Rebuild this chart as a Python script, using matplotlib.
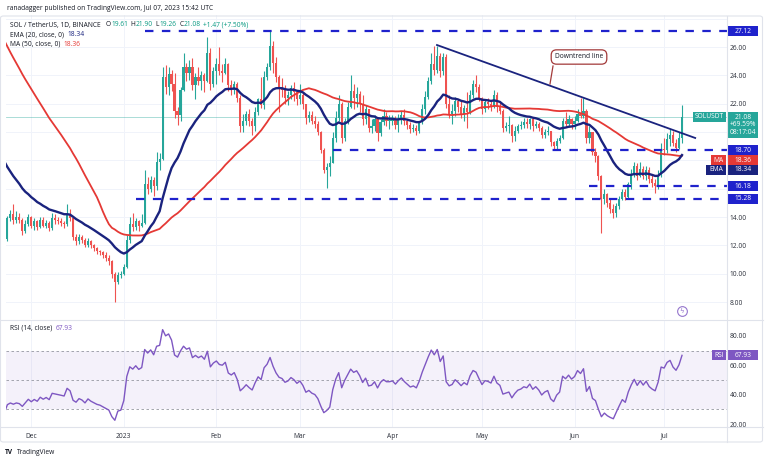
import matplotlib
matplotlib.use("Agg")
import matplotlib.pyplot as plt
import matplotlib.dates as mdates
from matplotlib.lines import Line2D
from matplotlib.patches import Rectangle, FancyBboxPatch
import numpy as np
import pandas as pd

plt.rcParams['font.family'] = ['Open Sans', 'DejaVu Sans']

# daily closes before the visible window (Oct 1 - Nov 22 2022), only used by the indicators
warmup_closes = [33.2, 32.2, 33.4, 34.6, 33.8, 33.3, 32.6, 32.9, 32.7, 31.7, 30.9, 30.9, 30.9, 30.4, 30.2, 30.5,
                 30.9, 30.3, 28.6, 28.6, 28.5, 28.6, 29.2, 29.4, 30.4, 31.3, 29.6, 31.5, 33.0, 31.9, 31.6,
                 32.0, 30.6, 30.9, 36.0, 37.6, 34.6, 31.6, 22.9, 15.5, 17.6, 15.8, 14.4, 14.0, 14.3, 14.4,
                 13.8, 13.5, 13.2, 13.5, 12.4, 11.6, 12.45]

first_day = "2022-11-23"
first_open = 12.45
closes = [
    13.9, 14.2, 13.8, 14.0, 13.8, 13.0, 13.5, 14.0,  # nov
    13.4, 13.7, 13.3, 13.8, 13.4, 13.6, 13.2, 13.9, 13.8, 13.7, 13.6, 13.5, 14.2, 13.9, 12.6, 12.3,
    12.6, 12.4, 12.0, 12.3, 12.0, 11.8, 11.6, 11.5, 11.3, 11.1, 10.9, 10.0, 9.4, 9.9, 9.95,  # dec
    10.5, 12.4, 13.5, 13.3, 13.7, 13.4, 13.6, 16.3, 16.0, 16.6, 16.2, 17.9, 18.1, 23.9, 23.2, 24.1,
    23.4, 21.5, 21.2, 23.0, 24.6, 24.2, 24.6, 23.3, 23.9, 23.6, 24.0, 23.6, 25.6, 23.4, 24.3,  # jan
    24.8, 24.3, 24.2, 24.8, 23.3, 23.0, 23.4, 22.4, 20.4, 20.8, 21.3, 20.8, 20.4, 21.4, 22.3, 21.9,
    23.9, 24.6, 26.1, 24.9, 23.9, 23.2, 23.0, 22.4, 22.6, 23.1, 22.8, 22.3,  # feb
    22.6, 22.0, 21.0, 21.2, 20.8, 20.6, 20.0, 18.7, 17.3, 17.5, 17.8, 19.6, 21.0, 22.0, 19.6, 20.8,
    21.8, 22.9, 22.4, 22.7, 22.0, 20.9, 21.6, 20.3, 20.4, 20.9, 19.9, 20.7, 21.1, 20.8, 20.8,  # mar
    20.9, 20.5, 20.9, 21.2, 20.8, 20.5, 20.2, 20.3, 20.1, 20.7, 21.6, 22.5, 23.6, 24.8, 24.4, 25.4,
    24.3, 25.3, 22.0, 21.3, 21.5, 22.2, 21.8, 21.3, 21.7, 21.4, 22.6, 23.4, 23.2, 22.4,  # apr
    21.6, 22.1, 22.0, 21.8, 22.6, 21.8, 21.5, 20.3, 20.4, 20.5, 19.7, 20.1, 20.4, 20.5, 20.7, 20.6,
    20.9, 20.4, 20.6, 20.3, 19.8, 20.0, 20.1, 19.3, 19.0, 19.4, 19.6, 20.8, 20.6, 20.9, 20.6,  # may
    20.8, 21.3, 21.1, 21.5, 19.6, 20.0, 18.6, 18.3, 16.9, 15.3, 15.6, 15.0, 14.6, 14.3, 14.8, 15.3,
    15.8, 15.4, 16.3, 17.0, 17.6, 16.9, 17.4, 16.9, 17.3, 16.7, 16.4, 16.2, 17.0, 18.8,  # jun
    18.7, 19.5, 19.8, 19.2, 18.9, 19.61, 21.08,  # jul
]
highs = [
    14.1, 14.5, 14.9, 14.4, 14.3, 13.9, 13.8, 14.2,
    14.1, 13.9, 13.8, 14.0, 14.0, 13.8, 13.7, 14.3, 14.2, 14.0, 13.9, 13.7, 14.9, 14.6, 14.0, 12.8,
    12.8, 12.7, 12.5, 12.5, 12.4, 12.1, 11.9, 11.7, 11.6, 11.5, 11.3, 11.0, 10.1, 10.1, 10.2,
    10.7, 12.7, 14.0, 14.3, 13.9, 13.8, 14.2, 17.3, 16.8, 16.9, 16.8, 18.6, 18.5, 24.6, 24.7, 24.6,
    24.4, 24.2, 21.8, 23.2, 25.6, 24.9, 25.1, 25.2, 24.2, 24.6, 24.3, 24.2, 26.7, 25.9, 24.6,
    25.2, 26.0, 24.8, 25.2, 24.9, 23.7, 23.6, 23.5, 22.6, 21.3, 21.5, 21.6, 21.0, 21.8, 22.4, 23.9,
    24.3, 24.9, 27.12, 26.4, 25.3, 24.0, 23.8, 23.3, 22.9, 23.3, 23.5, 23.0,
    23.4, 22.8, 22.0, 21.5, 21.5, 21.1, 20.8, 20.1, 18.9, 17.8, 18.3, 20.0, 21.5, 22.6, 22.1, 21.0,
    22.1, 24.0, 23.4, 23.2, 22.9, 22.6, 21.9, 21.6, 20.9, 21.2, 21.0, 20.9, 21.6, 21.4, 21.2,
    21.2, 21.1, 21.3, 21.5, 21.6, 20.9, 20.7, 20.6, 20.5, 20.8, 22.0, 22.9, 23.9, 25.6, 26.1, 26.1,
    25.6, 25.6, 25.5, 22.6, 22.0, 22.5, 22.3, 22.2, 21.9, 22.8, 23.0, 23.7, 24.0, 23.4,
    22.5, 22.3, 22.4, 22.2, 23.0, 22.8, 22.1, 21.6, 20.7, 21.1, 20.6, 20.4, 20.6, 20.8, 21.0, 21.0,
    21.0, 21.0, 20.8, 20.7, 20.4, 20.2, 20.4, 20.1, 19.4, 19.6, 19.8, 21.0, 21.4, 21.2, 21.0,
    21.1, 21.6, 22.4, 22.4, 21.6, 20.4, 20.0, 18.9, 18.4, 17.0, 16.0, 15.7, 15.3, 14.9, 15.0, 15.5,
    16.0, 16.0, 16.5, 17.4, 17.9, 17.8, 17.9, 17.6, 17.6, 17.5, 17.0, 16.7, 17.3, 19.2,
    19.6, 19.9, 20.2, 20.1, 19.5, 20.0, 21.90,
]
lows = [
    12.3, 13.7, 13.5, 13.6, 13.6, 12.7, 12.9, 13.4,
    13.2, 13.1, 13.1, 13.2, 13.3, 13.2, 13.0, 13.1, 13.5, 13.5, 13.4, 13.2, 13.4, 13.7, 12.4, 12.0,
    12.1, 12.2, 11.9, 11.9, 11.8, 11.6, 11.4, 11.3, 11.1, 10.9, 10.6, 9.7, 8.0, 9.3, 9.7,
    9.9, 10.4, 12.2, 13.0, 13.1, 13.0, 13.3, 13.5, 15.6, 15.8, 15.5, 15.9, 17.3, 18.0, 22.7, 22.6,
    22.9, 21.0, 20.5, 20.8, 22.9, 23.6, 23.7, 23.0, 22.3, 23.3, 23.0, 22.8, 23.5, 23.0, 23.2,
    23.4, 24.0, 23.5, 24.1, 22.9, 22.6, 22.7, 22.1, 20.0, 20.0, 20.5, 20.4, 19.8, 20.1, 21.2, 21.7,
    21.6, 23.7, 24.4, 24.2, 23.5, 21.4, 22.5, 22.0, 21.9, 22.3, 22.2, 21.9,
    22.0, 21.6, 20.6, 20.7, 20.6, 20.3, 19.8, 18.5, 17.1, 16.05, 16.9, 17.8, 19.3, 20.8, 19.2, 19.4,
    20.6, 21.7, 21.6, 21.8, 21.4, 20.5, 20.6, 20.0, 19.9, 20.1, 19.4, 19.7, 20.5, 20.4, 20.2,
    20.5, 20.2, 20.0, 20.6, 20.5, 20.2, 19.9, 20.0, 19.8, 19.9, 20.6, 21.3, 22.3, 23.4, 24.0, 24.2,
    23.9, 24.0, 21.7, 21.0, 20.6, 21.1, 21.4, 21.0, 20.8, 20.3, 21.3, 22.4, 22.8, 22.2,
    21.3, 21.4, 21.6, 21.5, 21.7, 21.4, 21.3, 20.0, 20.1, 19.9, 19.3, 19.4, 19.9, 20.2, 20.3, 20.3,
    20.2, 20.1, 20.3, 20.1, 19.6, 19.6, 19.8, 19.0, 18.7, 18.8, 19.2, 19.5, 20.4, 20.4, 20.2,
    20.2, 20.7, 21.0, 21.0, 19.2, 19.2, 18.4, 17.9, 16.6, 12.9, 14.9, 14.7, 14.3, 13.9, 14.0, 14.6,
    15.2, 15.2, 15.3, 16.0, 16.8, 16.6, 16.8, 16.7, 16.6, 16.4, 16.1, 15.7, 16.0, 16.8,
    18.4, 18.5, 19.0, 19.0, 18.6, 18.8, 19.26,
]

# horizontal support / resistance levels and the day each one starts
levels = [27.12, 18.70, 16.18, 15.28]
level_starts = ["2023-01-08", "2023-03-12", "2023-06-06", "2023-01-05"]
# drawn downtrend line
trend_dates = ["2023-04-15 22:00", "2023-07-11 10:00"]
trend_prices = [26.14, 19.58]

month_ticks = ["2022-12-01", "2023-01-01", "2023-02-01", "2023-03-01", "2023-04-01",
               "2023-05-01", "2023-06-01", "2023-07-01"]
month_labels = ["Dec", "2023", "Feb", "Mar", "Apr", "May", "Jun", "Jul"]
price_ticks = [8, 10, 12, 14, 22, 24, 26]
rsi_ticks = [20, 40, 60, 80]

UP = "#26a69a"
DOWN = "#ef5350"
EMA_C = "#1a237e"
MA_C = "#e53935"
BLUE = "#1f22cc"
RSI_C = "#7e57c2"
GRID = "#f0f3fa"
TXT = "#2a2e39"
DARK = "#131722"
TEAL = "#089981"
FS = 4.8

W, H = 768, 463


def px_to_price(py):
    return 26 - (py - 47) / 14.17


def ptext(px, py, s, **kw):
    return fig.text(px / W, 1 - py / H, s, va="center", fontsize=FS, **kw)


def chain(px, py, pieces):
    # lays text pieces one after another on the same line
    rend = fig.canvas.get_renderer()
    xpos = px
    for txt, col, gap in pieces:
        t = ptext(xpos, py, txt, color=col)
        xpos += t.get_window_extent(renderer=rend).width + gap


fig = plt.figure(figsize=(W / 100, H / 100), dpi=100)
ax = fig.add_axes([6 / W, 1 - 319 / H, 721 / W, 304 / H])
rax = fig.add_axes([6 / W, 1 - 427 / H, 721 / W, 107 / H])

dates = pd.date_range(first_day, periods=len(closes), freq="D")
all_dates = pd.date_range("2022-10-01", periods=len(warmup_closes) + len(closes), freq="D")
s = pd.Series(warmup_closes + closes, index=all_dates)
ema = s.ewm(span=20, adjust=False).mean()
ma = s.rolling(50).mean()
delta = s.diff()
gain = delta.clip(lower=0).ewm(alpha=1 / 14, adjust=False).mean()
loss = (-delta.clip(upper=0)).ewm(alpha=1 / 14, adjust=False).mean()
rsi = 100 - 100 / (1 + gain / loss)

x = mdates.date2num(dates)
ax_all = mdates.date2num(all_dates)
o = np.array([first_open] + closes[:-1])
c = np.array(closes)
hi = np.array(highs)
lo = np.array(lows)
cols = np.where(c >= o, UP, DOWN)

x_last = x[-1]
xmin = x_last - (682 - 6) / 2.985
xmax = x_last + (727 - 682) / 2.985

# grid
for m in month_ticks:
    for a in (ax, rax):
        a.axvline(mdates.datestr2num(m), color=GRID, lw=0.7, zorder=0)
for p in range(8, 29, 2):
    ax.axhline(p, color=GRID, lw=0.7, zorder=0)

# candles
ax.vlines(x, lo, hi, color=cols, lw=0.8, zorder=2)
body = np.maximum(np.abs(c - o), 0.05)
ax.bar(x, body, bottom=np.minimum(o, c), width=0.72, color=cols, lw=0, zorder=3)

ax.plot(ax_all, ma, color=MA_C, lw=1.3, zorder=4)
ax.plot(ax_all, ema, color=EMA_C, lw=1.7, zorder=4)

# last price line
ax.axhline(closes[-1], color=UP, lw=0.6, alpha=0.45, zorder=1)

for lvl, st in zip(levels, level_starts):
    ax.plot([mdates.datestr2num(st), xmax], [lvl, lvl], color=BLUE, lw=1.6,
            ls=(0, (3.8, 3.8)), zorder=5, solid_capstyle="butt")

ax.plot(mdates.datestr2num(trend_dates), trend_prices, color=EMA_C, lw=1.3, zorder=5)

# callout
cx = x_last - (682 - 579) / 2.985
ax.text(cx, px_to_price(57), "Downtrend line", ha="center", va="center", fontsize=FS,
        color=DARK, zorder=7,
        bbox=dict(boxstyle="round,pad=0.55,rounding_size=0.8", fc="white", ec="#a33a3a", lw=0.9))
ax.plot([x_last - (682 - 553) / 2.985, x_last - (682 - 550) / 2.985],
        [px_to_price(66), px_to_price(84)], color="#a33a3a", lw=0.9, zorder=6)

# event icon
ax.plot([x_last], [px_to_price(311)], "o", ms=7, mfc="white", mec="#9575cd", mew=0.8, zorder=6)
ax.text(x_last, px_to_price(311), "ϟ", ha="center", va="center", fontsize=5, color="#9575cd", zorder=7,
        family=["DejaVu Sans"])

ax.set_xlim(xmin, xmax)
ax.set_ylim(px_to_price(319), px_to_price(15))
ax.yaxis.tick_right()
ax.set_yticks(price_ticks)
ax.set_yticklabels([f"{p:.2f}" for p in price_ticks])
ax.tick_params(axis="y", length=0, pad=2, labelsize=FS, labelcolor=TXT)
ax.set_xticks([])
for sp in ax.spines.values():
    sp.set_visible(False)

# RSI pane
rax.axhspan(30, 70, color=RSI_C, alpha=0.08, lw=0, zorder=0)
for lvl in (70, 50, 30):
    rax.axhline(lvl, color="#9598a1", lw=0.6, ls=(0, (3, 3)), zorder=1)
rax.plot(ax_all, rsi, color=RSI_C, lw=1.0, zorder=3)
rax.set_xlim(xmin, xmax)
rax.set_ylim(80 - (427 - 336) / 1.467, 80 + (336 - 320) / 1.467)
rax.yaxis.tick_right()
rax.set_yticks(rsi_ticks)
rax.set_yticklabels([f"{p:.2f}" for p in rsi_ticks])
rax.set_xticks(mdates.datestr2num(month_ticks))
rax.set_xticklabels(month_labels)
rax.tick_params(axis="both", length=0, labelsize=FS, labelcolor=TXT)
rax.tick_params(axis="y", pad=2)
rax.tick_params(axis="x", pad=4)
for sp in rax.spines.values():
    sp.set_visible(False)


def tag(a, yval, txt, fc, x0, x1, hpx, scale):
    f0 = (x0 - 6) / 721
    f1 = (x1 - 6) / 721
    h = hpx / scale
    a.add_patch(Rectangle((f0, yval - h / 2), f1 - f0, h, transform=a.get_yaxis_transform(),
                          fc=fc, ec="none", clip_on=False, zorder=10))
    a.text((f0 + f1) / 2, yval, txt, transform=a.get_yaxis_transform(), ha="center", va="center",
           fontsize=FS, color="white", clip_on=False, zorder=11)


for lvl in levels:
    tag(ax, lvl, f"{lvl:.2f}", BLUE, 728, 758, 10, 14.17)
tag(ax, px_to_price(160), "18.36", MA_C, 728, 758, 10, 14.17)
tag(ax, px_to_price(170), "18.34", EMA_C, 728, 758, 10, 14.17)
tag(ax, px_to_price(160), "MA", MA_C, 711, 726, 10, 14.17)
tag(ax, px_to_price(170), "EMA", EMA_C, 706, 726, 10, 14.17)
tag(ax, closes[-1], "SOLUSDT", UP, 693, 726, 10, 14.17)
# price tag with change and countdown
f0, f1 = (728 - 6) / 721, (758 - 6) / 721
ax.add_patch(Rectangle((f0, px_to_price(138)), f1 - f0, 26 / 14.17, transform=ax.get_yaxis_transform(),
                       fc=UP, ec="none", clip_on=False, zorder=10))
for py, t in zip((117.5, 125, 132.5), ("21.08", "+69.59%", "08:17:04")):
    ax.text((f0 + f1) / 2, px_to_price(py), t, transform=ax.get_yaxis_transform(), ha="center",
            va="center", fontsize=FS, color="white", clip_on=False, zorder=11)

tag(rax, float(rsi.iloc[-1]), "67.93", RSI_C, 728, 758, 10, 1.467)
tag(rax, float(rsi.iloc[-1]), "RSI", RSI_C, 712, 726, 10, 1.467)

# frame and separators
fig.add_artist(FancyBboxPatch((0.5 / W, 1 - 442 / H), 762 / W, 426 / H, boxstyle="round,pad=0,rounding_size=0.004",
                              transform=fig.transFigure, fc="none", ec="#e0e3eb", lw=0.8))
for xs, ys in (([727, 727], [16, 442]), ([0.5, 762.5], [319.5, 319.5]), ([0.5, 762.5], [427, 427])):
    fig.add_artist(Line2D([v / W for v in xs], [1 - v / H for v in ys], color="#e0e3eb", lw=0.8))

# header and legends
ptext(7, 9, "ranadagger published on TradingView.com, Jul 07, 2023 15:42 UTC", color=DARK)
chain(10, 25, [("SOL / TetherUS, 1D, BINANCE", DARK, 5),
               ("O", DARK, 0.5), ("19.61", TEAL, 2.5),
               ("H", DARK, 0.5), ("21.90", TEAL, 2.5),
               ("L", DARK, 0.5), ("19.26", TEAL, 2.5),
               ("C", DARK, 0.5), ("21.08", TEAL, 2.5),
               ("+1.47 (+7.50%)", TEAL, 0)])
chain(10, 35, [("EMA (20, close, 0)", DARK, 3), ("18.34", EMA_C, 0)])
chain(10, 44, [("MA (50, close, 0)", DARK, 3), ("18.36", MA_C, 0)])
chain(10, 328, [("RSI (14, close)", DARK, 3), ("67.93", RSI_C, 0)])

ptext(5, 453, "TV", color=DARK, fontweight="bold")
ptext(17, 453, "TradingView", color=DARK)

fig.savefig("out.png", dpi=100)
